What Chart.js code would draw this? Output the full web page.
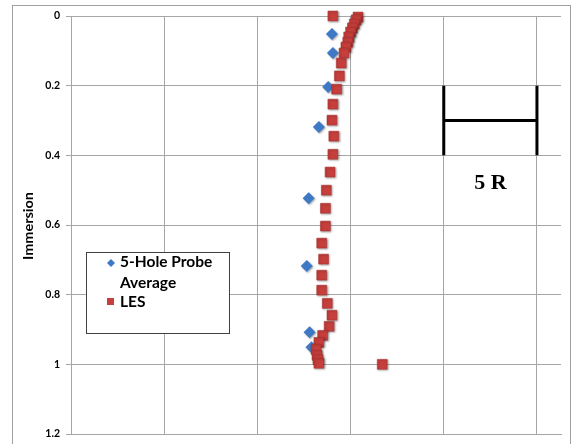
<!DOCTYPE html>
<html>
<head>
<meta charset="utf-8">
<script src="https://cdn.jsdelivr.net/npm/chart.js@4/dist/chart.umd.min.js"></script>
<style>
  html, body { margin: 0; padding: 0; background: #ffffff; }
  #wrap { width: 572px; height: 444px; position: relative; }
</style>
</head>
<body>
<div id="wrap"><canvas id="c" width="572" height="444"></canvas></div>
<script>
// Five-hole probe averages (x position, immersion depth)
const probeX = [2.80, 2.81, 2.76, 2.66, 2.55, 2.53, 2.56, 2.58];
const probeY = [0.052, 0.106, 0.204, 0.319, 0.523, 0.718, 0.908, 0.951];

// LES profile (x position, immersion depth)
const lesX = [2.81, 3.08, 3.06, 3.04, 3.02, 3.00, 2.98, 2.97, 2.95, 2.93,
              2.90, 2.88, 2.85, 2.81, 2.80, 2.82, 2.81, 2.78, 2.74, 2.73,
              2.73, 2.69, 2.71, 2.69, 2.69, 2.75, 2.80, 2.77, 2.70, 2.66,
              2.63, 2.64, 2.65, 2.66, 3.34];
const lesY = [0.000, 0.003, 0.011, 0.023, 0.034, 0.046, 0.060, 0.075, 0.089, 0.106,
              0.135, 0.172, 0.210, 0.253, 0.299, 0.345, 0.397, 0.448, 0.500, 0.552,
              0.603, 0.652, 0.698, 0.744, 0.787, 0.825, 0.859, 0.891, 0.917, 0.937,
              0.957, 0.974, 0.986, 0.997, 1.000];

// Immersion axis tick labels
const yTickLabels = ['0', '0.2', '0.4', '0.6', '0.8', '1', '1.2'];

// Series names shown in the legend box
const seriesNames = ['5-Hole Probe Average', 'LES'];

// Scale bar: spans one x unit, labelled 5 R
const scaleBarX = [4, 5];
const scaleBarY = [0.2, 0.4];
const scaleBarLabel = '5 R';

const probePts = probeX.map((x, i) => ({ x, y: probeY[i] }));
const lesPts = lesX.map((x, i) => ({ x, y: lesY[i] }));

const GRID = '#a6a6a6';
const BLUE = '#3d79c4';
const RED = '#c63f3c';

const decor = {
  id: 'decor',
  beforeDraw(chart) {
    const ctx = chart.ctx;
    ctx.save();
    ctx.fillStyle = '#ffffff';
    ctx.fillRect(0, 0, chart.width, chart.height);
    ctx.strokeStyle = '#a0a0a0';
    ctx.lineWidth = 1;
    ctx.strokeRect(12.5, 5.5, 558, 460);
    ctx.restore();
  },
  beforeDatasetsDraw(chart) {
    const ctx = chart.ctx;
    ctx.save();
    ctx.shadowColor = 'rgba(0,0,0,0.35)';
    ctx.shadowBlur = 2;
    ctx.shadowOffsetX = 1;
    ctx.shadowOffsetY = 1;
  },
  afterDatasetsDraw(chart) {
    chart.ctx.restore();
  },
  afterDraw(chart) {
    const ctx = chart.ctx;
    const xs = chart.scales.x, ys = chart.scales.y;
    ctx.save();

    // axis title, stretched along its run
    ctx.fillStyle = '#000';
    ctx.font = 'bold 14px Lato';
    ctx.textAlign = 'center';
    ctx.textBaseline = 'middle';
    const w = ctx.measureText('Immersion').width;
    ctx.translate(28, 226);
    ctx.rotate(-Math.PI / 2);
    ctx.scale(68 / w, 1);
    ctx.fillText('Immersion', 0, 0);
    ctx.setTransform(1, 0, 0, 1, 0, 0);

    // scale bar
    const x0 = xs.getPixelForValue(scaleBarX[0]);
    const x1 = xs.getPixelForValue(scaleBarX[1]);
    const y0 = ys.getPixelForValue(scaleBarY[0]);
    const y1 = ys.getPixelForValue(scaleBarY[1]);
    const ym = ys.getPixelForValue((scaleBarY[0] + scaleBarY[1]) / 2);
    ctx.strokeStyle = '#000';
    ctx.lineWidth = 3;
    ctx.beginPath();
    ctx.moveTo(x0, y0); ctx.lineTo(x0, y1);
    ctx.moveTo(x1, y0); ctx.lineTo(x1, y1);
    ctx.moveTo(x0, ym); ctx.lineTo(x1, ym);
    ctx.stroke();
    ctx.font = 'bold 22px "Liberation Serif"';
    ctx.textAlign = 'center';
    ctx.textBaseline = 'alphabetic';
    ctx.fillText(scaleBarLabel, (x0 + x1) / 2, y1 + 34);

    // legend box
    ctx.fillStyle = '#fff';
    ctx.fillRect(86.5, 252.5, 143, 81);
    ctx.strokeStyle = '#404040';
    ctx.lineWidth = 1;
    ctx.strokeRect(86.5, 252.5, 143, 81);
    ctx.font = 'bold 15.5px Lato';
    ctx.textAlign = 'left';
    ctx.textBaseline = 'middle';
    ctx.fillStyle = '#000';
    const parts = seriesNames[0].split(' ');
    ctx.fillText(parts.slice(0, 2).join(' '), 120, 262);
    ctx.fillText(parts.slice(2).join(' '), 120, 283);
    ctx.fillText(seriesNames[1], 120, 302);
    // legend markers
    ctx.fillStyle = BLUE;
    ctx.beginPath();
    ctx.moveTo(111, 259); ctx.lineTo(115, 263); ctx.lineTo(111, 267); ctx.lineTo(107, 263);
    ctx.closePath();
    ctx.fill();
    ctx.fillStyle = RED;
    ctx.fillRect(107, 298, 7, 7);

    ctx.restore();
  }
};

new Chart(document.getElementById('c'), {
  type: 'scatter',
  data: {
    datasets: [
      {
        label: seriesNames[1],
        data: lesPts,
        pointStyle: 'rect',
        pointRadius: 7,
        pointHoverRadius: 7,
        backgroundColor: RED,
        borderColor: '#a8302e',
        borderWidth: 0.5,
        order: 0,
        clip: false
      },
      {
        label: seriesNames[0],
        data: probePts,
        pointStyle: 'rectRot',
        pointRadius: 6,
        pointHoverRadius: 6,
        backgroundColor: BLUE,
        borderColor: BLUE,
        borderWidth: 0,
        order: 1,
        clip: false
      }
    ]
  },
  options: {
    responsive: false,
    animation: false,
    events: [],
    layout: { padding: { left: 0, top: 16, right: 11, bottom: 0 } },
    plugins: {
      legend: { display: false },
      tooltip: { enabled: false },
      title: { display: false }
    },
    scales: {
      x: {
        type: 'linear',
        min: 0,
        max: 5.258,
        ticks: { display: false, stepSize: 1, includeBounds: false },
        grid: { color: GRID, lineWidth: 1, drawTicks: false },
        border: { color: GRID, width: 1 },
        afterFit(s) { s.height = 10; s.paddingLeft = 0; s.paddingRight = 0; }
      },
      y: {
        type: 'linear',
        reverse: true,
        min: 0,
        max: 1.2,
        ticks: {
          stepSize: 0.2,
          padding: 6,
          color: '#000',
          font: { family: 'Lato', weight: 'bold', size: 10.5 },
          callback: (v) => yTickLabels[Math.round(v / 0.2)]
        },
        grid: { color: GRID, lineWidth: 1, tickLength: 5 },
        border: { color: GRID, width: 1 },
        afterFit(s) { s.width = 71; s.paddingTop = 0; s.paddingBottom = 0; }
      }
    }
  },
  plugins: [decor]
});
</script>
</body>
</html>
